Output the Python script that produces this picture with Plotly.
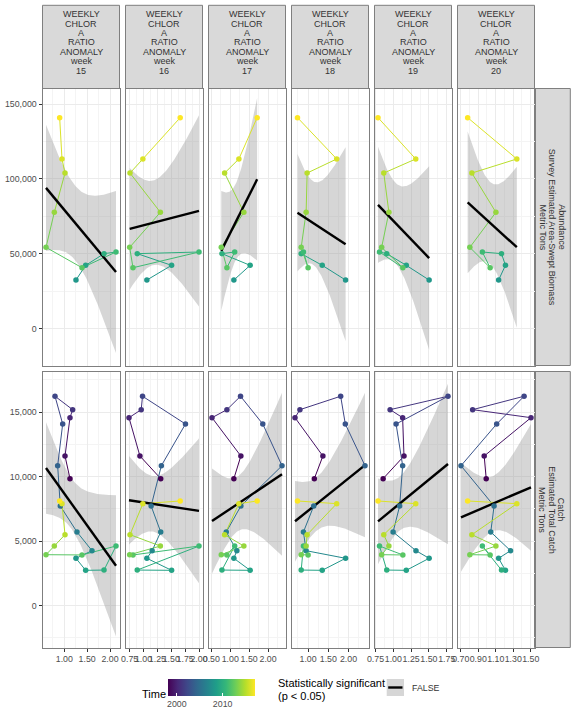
import numpy as np
import plotly.graph_objects as go
from plotly.colors import sample_colorscale

# ---------------- data ----------------
years = list(range(1998, 2018))
weeks = [15, 16, 17, 18, 19, 20]

catch = [9840, 11590, 14560, 15180, 16220, 14070, 10840, 7720, 5710, 4260,
         3670, 2740, 2760, 4620, 3930, 3950, 4620, 5500, 7900, 8110]
abundance = [None] * 10 + [32500, 42300, 50100, 51200, 40700, 54300,
                           77700, 103900, 113300, 140900]

chl_w15 = [1.124, 1.015, 1.124, 1.182, 0.796, 0.964, 0.854, 0.912, 1.277, 1.606,
           1.255, 1.467, 1.869, 2.131, 1.387, 0.599, 0.781, 1.015, 0.949, 0.898]
chl_w16 = [1.310, 0.935, 0.738, 0.958, 0.982, 1.756, 1.321, 1.137, 1.310, 1.155,
           1.060, 1.506, 0.887, 2.000, 0.810, 0.750, 1.304, 0.756, 0.988, 1.661]
chl_w17 = [1.096, 1.281, 0.518, 0.912, 1.272, 1.860, 2.368, 1.281, 0.895, 1.175,
           1.096, 1.526, 0.781, 1.118, 0.912, 0.763, 1.360, 0.851, 1.228, 1.711]
chl_w18 = [1.154, 1.366, 0.676, 0.798, 1.805, 1.920, 2.407, 1.139, 0.885, 0.951,
           1.927, 1.349, 0.829, 0.885, 1.000, 0.829, 0.951, 0.976, 1.707, 0.737]
chl_w19 = [0.857, 1.150, 1.131, 0.955, 1.768, 1.039, 1.131, 1.089, 0.997, 1.318,
           1.503, 1.182, 0.908, 0.806, 1.134, 0.836, 0.938, 0.866, 1.315, 0.785]
chl_w20 = [0.991, 0.968, 1.503, 0.836, 1.424, 1.111, 0.703, 1.081, 1.043, 1.269,
           1.133, 1.211, 1.166, 0.947, 1.036, 0.804, 1.102, 0.827, 1.341, 0.779]
chl_weeks = [chl_w15, chl_w16, chl_w17, chl_w18, chl_w19, chl_w20]

x_ticks = [[1.0, 1.5, 2.0],
           [0.75, 1.0, 1.25, 1.5, 1.75, 2.0],
           [0.5, 1.0, 1.5, 2.0],
           [1.0, 1.5, 2.0],
           [0.75, 1.0, 1.25, 1.5, 1.75],
           [0.7, 0.9, 1.1, 1.3, 1.5]]
y_ticks = [[0, 50000, 100000, 150000], [0, 5000, 10000, 15000]]
y_ranges = [[-24566, 160347], [-3237, 18136]]

strip_lines = ["WEEKLY", "CHLOR", "A", "RATIO", "ANOMALY", "week"]
row_labels = [["Abundance", "Survey Estimated Area-Swept Biomass", "Metric Tons"],
              ["Catch", "Estimated Total Catch", "Metric Tons"]]

# ---------------- helpers ----------------
W, H = 576, 720
FONT = "Liberation Sans"
col_px = [(42.5 + 83 * i, 119.5 + 83 * i) for i in range(6)]
row_px = [(88.5, 365.5), (371.5, 647.5)]
T_Q = {8: 2.306004, 18: 2.100922}
YMIN, YMAX = min(years), max(years)


def px_x(p):
    return p / W


def px_y(p):
    return 1 - p / H


def vcol(yr):
    return sample_colorscale("Viridis", [(yr - YMIN) / (YMAX - YMIN)])[0]


def fit_band(x, y):
    x = np.asarray(x, float)
    y = np.asarray(y, float)
    n = len(x)
    b, a = np.polyfit(x, y, 1)
    xs = np.linspace(x.min(), x.max(), 80)
    yhat = a + b * xs
    resid = y - (a + b * x)
    s = np.sqrt((resid ** 2).sum() / (n - 2))
    sxx = ((x - x.mean()) ** 2).sum()
    se = s * np.sqrt(1 / n + (xs - x.mean()) ** 2 / sxx)
    t = T_Q[n - 2]
    return xs, yhat, yhat - t * se, yhat + t * se


def minor_of(ticks):
    step = ticks[1] - ticks[0]
    return [ticks[0] - step / 2] + [t + step / 2 for t in ticks]


fig = go.Figure()
layout = {}
first_scale = True

for r in range(2):
    yvals_all = abundance if r == 0 else catch
    for c in range(6):
        idx = r * 6 + c + 1
        xa = "x" if idx == 1 else f"x{idx}"
        ya = "y" if idx == 1 else f"y{idx}"
        xs_all = chl_weeks[c]
        pts = [(xs_all[i], yvals_all[i], years[i]) for i in range(len(years))
               if yvals_all[i] is not None]
        px_ = [p[0] for p in pts]
        py_ = [p[1] for p in pts]
        pyr = [p[2] for p in pts]

        # ribbon + fit
        fx, fy, lo, hi = fit_band(px_, py_)
        fig.add_trace(go.Scatter(
            x=list(fx) + list(fx[::-1]), y=list(hi) + list(lo[::-1]),
            fill="toself", fillcolor="rgba(153,153,153,0.4)",
            line=dict(width=0), mode="lines", hoverinfo="skip",
            showlegend=False, xaxis=xa, yaxis=ya))

        # path segments
        for i in range(len(pts) - 1):
            fig.add_trace(go.Scatter(
                x=[px_[i], px_[i + 1]], y=[py_[i], py_[i + 1]], mode="lines",
                line=dict(color=vcol(pyr[i]), width=1), hoverinfo="skip",
                showlegend=False, xaxis=xa, yaxis=ya))

        # regression line
        fig.add_trace(go.Scatter(
            x=list(fx), y=list(fy), mode="lines",
            line=dict(color="black", width=2.4), hoverinfo="skip",
            showlegend=False, xaxis=xa, yaxis=ya))

        # points
        mk = dict(size=5.5, color=pyr, colorscale="Viridis", cmin=YMIN, cmax=YMAX,
                  line=dict(width=0))
        if first_scale:
            mk.update(showscale=True, colorbar=dict(
                orientation="h", x=px_x(167.7), xanchor="left",
                y=px_y(678.5), yanchor="top", len=86.6, lenmode="pixels",
                thickness=17, thicknessmode="pixels", xpad=0, ypad=0,
                outlinewidth=0, tickvals=[2000, 2010], ticks="inside",
                tickcolor="white", ticklen=3,
                tickfont=dict(family=FONT, size=8.8, color="#4D4D4D")))
            first_scale = False
        else:
            mk.update(showscale=False)
        fig.add_trace(go.Scatter(
            x=px_, y=py_, mode="markers", marker=mk, hoverinfo="skip",
            showlegend=False, xaxis=xa, yaxis=ya))

        # axes
        xmin, xmax = min(xs_all), max(xs_all)
        span = xmax - xmin
        x0, x1 = col_px[c]
        y0, y1 = row_px[r]
        layout["xaxis" if idx == 1 else f"xaxis{idx}"] = dict(
            domain=[px_x(x0), px_x(x1)], anchor=ya, automargin=False,
            range=[xmin - 0.05 * span, xmax + 0.05 * span],
            tickvals=x_ticks[c], tickformat=".2f", tickangle=0,
            showticklabels=(r == 1), ticks="outside" if r == 1 else "",
            ticklen=3, tickcolor="#333333", tickwidth=1,
            tickfont=dict(family=FONT, size=8.8, color="#4D4D4D"),
            showgrid=True, gridcolor="#EBEBEB", gridwidth=1,
            minor=dict(tickvals=minor_of(x_ticks[c]), showgrid=True,
                       gridcolor="#F4F4F4", gridwidth=0.6, ticks=""),
            zeroline=False, showline=True, mirror=True,
            linecolor="#7F7F7F", linewidth=1)
        layout["yaxis" if idx == 1 else f"yaxis{idx}"] = dict(
            domain=[px_y(y1), px_y(y0)], anchor=xa, automargin=False,
            range=y_ranges[r], tickvals=y_ticks[r], tickformat=",.0f", tickangle=0,
            showticklabels=(c == 0), ticks="outside" if c == 0 else "",
            ticklen=3, tickcolor="#333333", tickwidth=1,
            tickfont=dict(family=FONT, size=8.8, color="#4D4D4D"),
            showgrid=True, gridcolor="#EBEBEB", gridwidth=1,
            minor=dict(tickvals=minor_of(y_ticks[r]) + [y_ticks[r][-1] + (y_ticks[r][1] - y_ticks[r][0]) / 2],
                       showgrid=True, gridcolor="#F4F4F4", gridwidth=0.6, ticks=""),
            zeroline=False, showline=True, mirror=True,
            linecolor="#7F7F7F", linewidth=1)

shapes = []
annotations = []
# top strips
for c in range(6):
    x0, x1 = col_px[c]
    shapes.append(dict(type="rect", xref="paper", yref="paper",
                       x0=px_x(x0), x1=px_x(x1), y0=px_y(88.5), y1=px_y(5.3),
                       fillcolor="#D9D9D9", line=dict(color="#7F7F7F", width=1),
                       layer="below"))
    lines = strip_lines + [str(weeks[c])]
    for k, t in enumerate(lines):
        annotations.append(dict(
            text=t, xref="paper", yref="paper", x=px_x((x0 + x1) / 2),
            y=px_y(14.2 + 9.4 * k), xanchor="center", yanchor="middle",
            showarrow=False, font=dict(family=FONT, size=9, color="#333333")))
# right strips
for r in range(2):
    y0, y1 = row_px[r]
    shapes.append(dict(type="rect", xref="paper", yref="paper",
                       x0=px_x(534.5), x1=px_x(570.3), y0=px_y(y1), y1=px_y(y0),
                       fillcolor="#D9D9D9", line=dict(color="#7F7F7F", width=1),
                       layer="below"))
    for k, t in enumerate(row_labels[r]):
        annotations.append(dict(
            text=t, xref="paper", yref="paper", x=px_x(561.8 - 9.6 * k),
            y=px_y((y0 + y1) / 2), xanchor="center", yanchor="middle",
            textangle=90, showarrow=False,
            font=dict(family=FONT, size=9, color="#333333")))

# legend texts
annotations.append(dict(text="Time", xref="paper", yref="paper", x=px_x(139.5),
                        y=px_y(694.3), xanchor="left", yanchor="middle",
                        showarrow=False, font=dict(family=FONT, size=11, color="black")))
annotations.append(dict(text="Statistically significant", xref="paper", yref="paper",
                        x=px_x(275.5), y=px_y(683.3), xanchor="left", yanchor="middle",
                        showarrow=False, font=dict(family=FONT, size=11, color="black")))
annotations.append(dict(text="(p < 0.05)", xref="paper", yref="paper",
                        x=px_x(275.5), y=px_y(696.3), xanchor="left", yanchor="middle",
                        showarrow=False, font=dict(family=FONT, size=11, color="black")))
annotations.append(dict(text="FALSE", xref="paper", yref="paper",
                        x=px_x(410), y=px_y(687.5), xanchor="left", yanchor="middle",
                        showarrow=False, font=dict(family=FONT, size=8.8, color="#333333")))
shapes.append(dict(type="rect", xref="paper", yref="paper",
                   x0=px_x(386.7), x1=px_x(404), y0=px_y(696), y1=px_y(679),
                   fillcolor="#D6D6D6", line=dict(width=0)))
shapes.append(dict(type="line", xref="paper", yref="paper",
                   x0=px_x(388.2), x1=px_x(402.5), y0=px_y(687.5), y1=px_y(687.5),
                   line=dict(color="black", width=2.4)))

fig.update_layout(
    width=W, height=H, margin=dict(l=0, r=0, t=0, b=0, autoexpand=False),
    paper_bgcolor="white", plot_bgcolor="white",
    font=dict(family=FONT), showlegend=False, hovermode=False,
    shapes=shapes, annotations=annotations, **layout)

fig.write_html("out.html", config={"displayModeBar": False},
               post_script="document.body.style.margin='0';document.body.style.overflow='hidden';")
